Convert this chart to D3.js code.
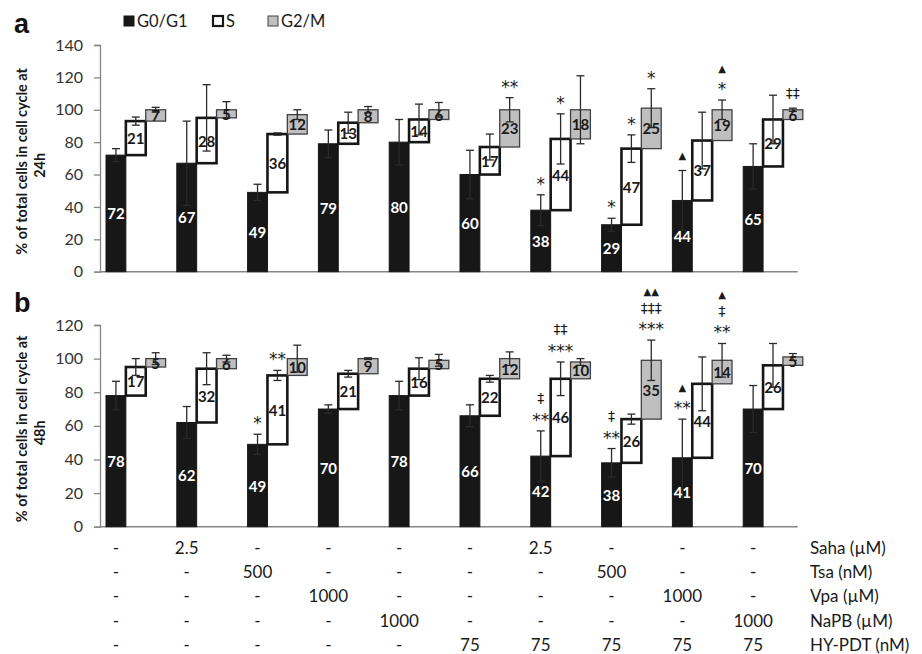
<!DOCTYPE html>
<html lang="en">
<head>
<meta charset="UTF-8">
<title>Cell cycle distribution</title>
<style>
  body { margin: 0; background: #fff; overflow: hidden; }
  svg { display: block; font-family: Lato, "Open Sans", sans-serif; }
</style>
</head>
<body>
<script src="https://d3js.org/d3.v7.min.js"></script>
<script>
const phases = ["G0/G1", "S", "G2/M"];
const groups = d3.range(10);

// 24h panel (a)
const g0_24 = [72, 67, 49, 79, 80, 60, 38, 29, 44, 65];
const s_24 = [21, 28, 36, 13, 14, 17, 44, 47, 37, 29];
const g2m_24 = [7, 5, 12, 8, 6, 23, 18, 25, 19, 6];
const g0Err_24 = [4, 26, 5, 8.5, 14, 15, 9.5, 4, 18.5, 14];
const sErr_24 = [2.5, 20.5, 0.7, 6.5, 9.5, 8, 15.5, 8.5, 17.5, 15];
const g2mErr_24 = [1.5, 5, 3, 2, 4.5, 7.5, 21, 12, 6, 1];
const marks_24 = [
  { g: 5, s: "G2/M", lines: ["**"] },
  { g: 6, s: "G0/G1", lines: ["*"] },
  { g: 6, s: "S", lines: ["*"] },
  { g: 7, s: "G0/G1", lines: ["*"] },
  { g: 7, s: "S", lines: ["*"] },
  { g: 7, s: "G2/M", lines: ["*"] },
  { g: 8, s: "G0/G1", lines: ["▲"] },
  { g: 8, s: "G2/M", lines: ["*", "▲"] },
  { g: 9, s: "G2/M", lines: ["‡‡"] }
];

// 48h panel (b)
const g0_48 = [78, 62, 49, 70, 78, 66, 42, 38, 41, 70];
const s_48 = [17, 32, 41, 21, 16, 22, 46, 26, 44, 26];
const g2m_48 = [5, 6, 10, 9, 5, 12, 10, 35, 14, 5];
const g0Err_48 = [8.5, 9.5, 6, 2.5, 8.5, 6.5, 15, 8.5, 23, 14];
const sErr_48 = [5, 9.5, 3, 2, 6.5, 2, 10, 3, 16, 13];
const g2mErr_48 = [3.5, 2, 8, 0.5, 3.5, 4, 2, 12, 10, 2];
const marks_48 = [
  { g: 2, s: "G0/G1", lines: ["*"] },
  { g: 2, s: "S", lines: ["**"] },
  { g: 6, s: "G0/G1", lines: ["**", "‡"] },
  { g: 6, s: "S", lines: ["***", "‡‡"] },
  { g: 7, s: "G0/G1", lines: ["**", "‡"] },
  { g: 7, s: "G2/M", lines: ["***", "‡‡‡", "▲▲"] },
  { g: 8, s: "G0/G1", lines: ["**", "▲"] },
  { g: 8, s: "G2/M", lines: ["**", "‡", "▲"] }
];

// treatment table
const treatNames = ["Saha (µM)", "Tsa (nM)", "Vpa (µM)", "NaPB (µM)", "HY-PDT (nM)"];
const saha = ["-", "2.5", "-", "-", "-", "-", "2.5", "-", "-", "-"];
const tsa = ["-", "-", "500", "-", "-", "-", "-", "500", "-", "-"];
const vpa = ["-", "-", "-", "1000", "-", "-", "-", "-", "1000", "-"];
const napb = ["-", "-", "-", "-", "1000", "-", "-", "-", "-", "1000"];
const hypdt = ["-", "-", "-", "-", "-", "75", "75", "75", "75", "75"];
const treatRows = [saha, tsa, vpa, napb, hypdt];

const width = 922, height = 654;
const svg = d3.select("body").append("svg")
  .attr("width", width).attr("height", height);

const ink = "#1a1a1a";
const axisColor = "#868686";
const axisEnd = 797.7;

const x0 = d3.scaleBand().domain(groups).range([100, 808]);
const x1 = d3.scaleBand().domain(phases).range([6, 65.6]);
const fills = { "G0/G1": "#171717", "S": "#ffffff", "G2/M": "#bfbfbf" };
const strokes = { "G0/G1": "#171717", "S": "#161616", "G2/M": "#404040" };
const strokeW = { "G0/G1": 1, "S": 2.6, "G2/M": 1.3 };

function buildRows(g0, s, g2m, e0, e1, e2) {
  return groups.map(i => {
    const vals = [g0[i], s[i], g2m[i]];
    const errs = [e0[i], e1[i], e2[i]];
    let base = 0;
    return phases.map((p, j) => {
      const r = { g: i, s: p, v: vals[j], base: base, top: base + vals[j], err: errs[j] };
      base += vals[j];
      return r;
    });
  });
}

const panels = [
  { letter: "a", when: "24h", yMax: 140, yTop: 45, yBottom: 271.7, letterY: 33,
    rows: buildRows(g0_24, s_24, g2m_24, g0Err_24, sErr_24, g2mErr_24), marks: marks_24 },
  { letter: "b", when: "48h", yMax: 120, yTop: 325, yBottom: 526.7, letterY: 311.5,
    rows: buildRows(g0_48, s_48, g2m_48, g0Err_48, sErr_48, g2mErr_48), marks: marks_48 }
];

// glyph sizes and baseline offsets so each mark line is centred where wanted
const markStyle = {
  "*": { size: 17, dy: 10 },
  "‡": { size: 14, dy: 4.5 },
  "▲": { size: 10, dy: 4 }
};

panels.forEach(p => {
  const y = d3.scaleLinear().domain([0, p.yMax]).range([p.yBottom, p.yTop]);
  const g = svg.append("g");

  // y axis
  const yAxis = g.append("g")
    .attr("transform", "translate(100,0)")
    .call(d3.axisLeft(y).tickValues(d3.range(0, p.yMax + 1, 20)).tickSize(6).tickPadding(11));
  yAxis.select(".domain").attr("stroke", axisColor).attr("stroke-width", 1.3);
  yAxis.selectAll(".tick line").attr("stroke", axisColor).attr("stroke-width", 1.3);
  yAxis.selectAll(".tick text")
    .style("font-family", "Lato").style("font-size", "16px").style("fill", "#333");

  // x baseline
  g.append("line")
    .attr("x1", 100).attr("x2", axisEnd)
    .attr("y1", y(0)).attr("y2", y(0))
    .attr("stroke", axisColor).attr("stroke-width", 1.5);

  const all = p.rows.flat();

  // bars
  g.selectAll("rect.bar").data(all).join("rect")
    .attr("class", "bar")
    .attr("x", d => x0(d.g) + x1(d.s))
    .attr("width", x1.bandwidth())
    .attr("y", d => y(d.top))
    .attr("height", d => y(d.base) - y(d.top))
    .attr("fill", d => fills[d.s])
    .attr("stroke", d => strokes[d.s])
    .attr("stroke-width", d => strokeW[d.s]);

  // error bars
  const eb = g.selectAll("g.err").data(all).join("g").attr("class", "err")
    .attr("transform", d => `translate(${x0(d.g) + x1(d.s) + x1.bandwidth() / 2},0)`)
    .attr("stroke", "#2a2a2a").attr("stroke-width", 1.3);
  eb.append("line")
    .attr("y1", d => y(d.top - d.err)).attr("y2", d => y(d.top + d.err));
  eb.append("line").attr("x1", -4).attr("x2", 4)
    .attr("y1", d => y(d.top + d.err)).attr("y2", d => y(d.top + d.err));
  eb.append("line").attr("x1", -4).attr("x2", 4)
    .attr("y1", d => y(d.top - d.err)).attr("y2", d => y(d.top - d.err));

  // value labels
  g.selectAll("text.val").data(all).join("text")
    .attr("class", "val")
    .attr("x", d => x0(d.g) + x1(d.s) + x1.bandwidth() / 2)
    .attr("y", d => y((d.base + d.top) / 2))
    .attr("text-anchor", "middle")
    .attr("dominant-baseline", "central")
    .attr("font-size", 15).attr("font-weight", "bold")
    .attr("fill", d => d.s === "G0/G1" ? "#fff" : ink)
    .text(d => d3.format(".0f")(d.v));

  // significance marks
  p.marks.forEach(m => {
    const d = p.rows[m.g].find(r => r.s === m.s);
    const cx = x0(d.g) + x1(d.s) + x1.bandwidth() / 2;
    const capY = y(d.top + d.err);
    m.lines.forEach((t, k) => {
      const st = markStyle[t[0]];
      g.append("text")
        .attr("x", cx)
        .attr("y", capY - 15 - 17 * k + st.dy)
        .attr("text-anchor", "middle")
        .attr("font-family", "DejaVu Sans")
        .attr("font-size", st.size)
        .attr("fill", ink)
        .text(t);
    });
  });

  // panel letter
  svg.append("text")
    .attr("x", 14).attr("y", p.letterY)
    .attr("font-family", "Liberation Sans").attr("font-weight", "bold")
    .attr("font-size", 27).attr("fill", "#111")
    .text(p.letter);

  // y title
  const cy = (p.yTop + p.yBottom) / 2 + 3;
  svg.append("text")
    .attr("transform", `translate(21,${cy}) rotate(-90)`)
    .attr("text-anchor", "middle").attr("dominant-baseline", "central")
    .attr("font-size", 14.5).attr("font-weight", "bold").attr("fill", ink)
    .text("% of total cells in cell cycle at");
  svg.append("text")
    .attr("transform", `translate(39,${cy + 4}) rotate(-90)`)
    .attr("text-anchor", "middle").attr("dominant-baseline", "central")
    .attr("font-size", 14.5).attr("font-weight", "bold").attr("fill", ink)
    .text(p.when);
});

// legend
const legendX = [124, 213, 268];
const legend = svg.append("g").selectAll("g").data(phases).join("g")
  .attr("transform", (d, i) => `translate(${legendX[i]},16)`);
legend.append("rect")
  .attr("width", 10).attr("height", 10)
  .attr("fill", d => fills[d])
  .attr("stroke", d => strokes[d])
  .attr("stroke-width", d => d === "S" ? 2.2 : 1);
legend.append("text")
  .attr("x", 13).attr("y", 5)
  .attr("dominant-baseline", "central")
  .attr("font-size", 16.5).attr("fill", ink)
  .text(d => d);

// treatment table
const rowY = d3.scalePoint().domain(treatNames).range([547, 644.6]);
treatRows.forEach((row, r) => {
  svg.append("g").selectAll("text").data(row).join("text")
    .attr("x", (d, i) => x0(i) + x1("G0/G1") + x1.bandwidth() / 2)
    .attr("y", rowY(treatNames[r]))
    .attr("text-anchor", "middle")
    .attr("dominant-baseline", "central")
    .attr("font-size", 17).attr("fill", ink)
    .text(d => d);
  svg.append("text")
    .attr("x", 810).attr("y", rowY(treatNames[r]))
    .attr("dominant-baseline", "central")
    .attr("font-size", 17).attr("fill", ink)
    .text(treatNames[r]);
});
</script>
</body>
</html>
